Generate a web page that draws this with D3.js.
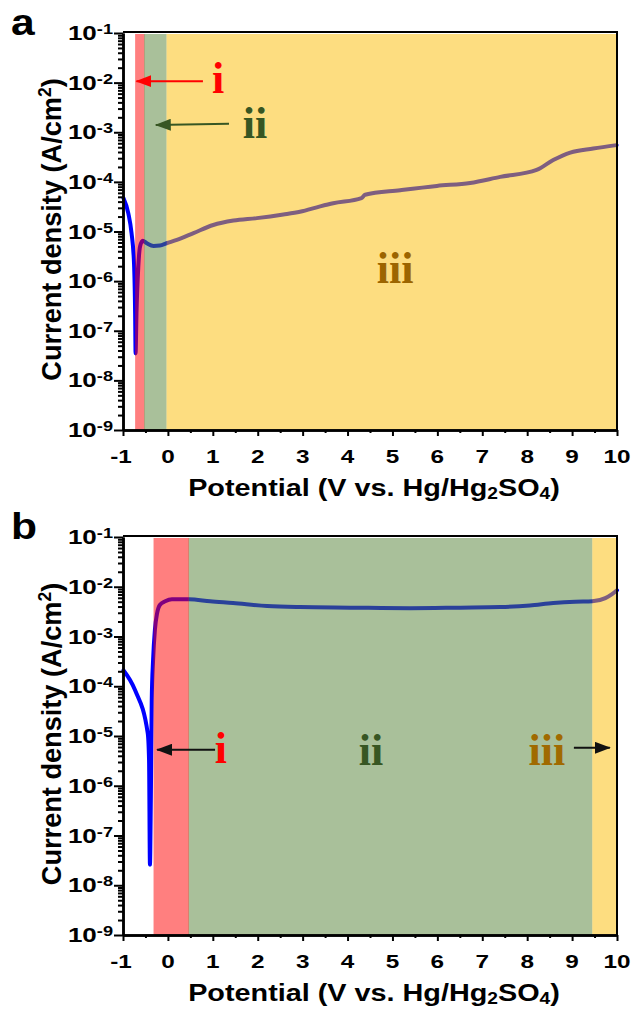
<!DOCTYPE html>
<html>
<head>
<meta charset="utf-8">
<script src="https://cdn.jsdelivr.net/npm/d3@7"></script>
<style>
  body { margin: 0; background: #fff; }
  svg { display: block; }
  text { font-family: "Liberation Sans", Arial, sans-serif; font-weight: bold; fill: #000; }
  .roman { font-family: "Liberation Serif", "Times New Roman", serif; font-weight: bold; }
</style>
</head>
<body>
<svg id="chart" width="633" height="1009"></svg>
<script>
// ---- Panel a: polarization curve (potential in V, current density in A/cm2)
const potentialA = [-0.99, -0.88, -0.81, -0.755, -0.73, -0.72, -0.70, -0.66, -0.62, -0.56,
  -0.47, -0.32, -0.18, -0.03, 0.20, 0.57, 1.01, 1.46, 1.98, 2.57, 2.94, 3.39, 3.68, 4.31,
  4.39, 5.17, 5.99, 6.73, 7.40, 8.21, 8.58, 8.96, 9.47, 9.99];
const currentA = [4.7e-5, 2.3e-5, 9.3e-6, 2.3e-6, 2.2e-7, 3.5e-8, 2.2e-7, 1.9e-6, 5.0e-6, 6.5e-6,
  5.8e-6, 5.1e-6, 5.2e-6, 5.8e-6, 6.8e-6, 9.3e-6, 1.35e-5, 1.66e-5, 1.86e-5, 2.2e-5, 2.5e-5, 3.2e-5, 3.7e-5, 4.7e-5,
  5.5e-5, 6.8e-5, 8.3e-5, 9.5e-5, 1.26e-4, 1.74e-4, 2.75e-4, 3.9e-4, 4.7e-4, 5.5e-4];

// ---- Panel b
const potentialB = [-0.99, -0.73, -0.45, -0.42, -0.40, -0.38, -0.36, -0.33, -0.29, -0.24,
  -0.18, -0.06, 0.09, 0.47, 0.94, 1.45, 2.21, 2.94, 4.06, 5.39, 6.51, 7.40, 8.06, 8.58,
  9.07, 9.45, 9.74, 9.89, 10.0];
const currentB = [2.1e-4, 8.3e-5, 1.15e-5, 3.3e-6, 2.6e-8, 5.1e-7, 5.2e-5, 3.4e-4, 1.35e-3, 2.95e-3,
  4.3e-3, 5.1e-3, 5.6e-3, 5.6e-3, 5.1e-3, 4.7e-3, 4.1e-3, 3.9e-3, 3.8e-3, 3.7e-3, 3.8e-3, 3.9e-3, 4.2e-3, 4.7e-3,
  5.0e-3, 5.1e-3, 5.9e-3, 7.1e-3, 8.5e-3];

// Region bounds (potential) for stages i, ii, iii
const regionNames = ["i", "ii", "iii"];
const regionStartA = [-0.73, -0.53, -0.03];
const regionEndA = [-0.52, -0.03, 10];
const regionStartB = [-0.32, 0.46, 9.45];
const regionEndB = [0.47, 9.45, 10];

// Axis ticks
const xTicks = [-1, 0, 1, 2, 3, 4, 5, 6, 7, 8, 9, 10];
const xMinorTicks = [-0.5, 0.5, 1.5, 2.5, 3.5, 4.5, 5.5, 6.5, 7.5, 8.5, 9.5];
const yExponents = [-1, -2, -3, -4, -5, -6, -7, -8, -9];

// Annotation placements [potential, current] for the stage labels
const labelPosA = [[1.12, 6.2e-3], [1.94, 7.6e-4], [5.06, 9.1e-7]];
const arrowA = [[[0.78, 1.07e-2], [-0.70, 1.07e-2]], [[1.36, 1.48e-3], [-0.27, 1.40e-3]]];
const labelPosB = [[1.18, 2.9e-6], [4.52, 2.65e-6], [8.44, 2.65e-6]];
const arrowB = [[[1.05, 5.3e-6], [-0.24, 5.3e-6]], [[9.04, 5.8e-6], [9.84, 5.8e-6]]];

const svg = d3.select("#chart");
const x = d3.scaleLinear().domain([-1, 10]).range([123, 617]);

const regionFill = ["rgb(255,0,0)", "rgb(83,129,53)", "rgb(251,187,1)"];
const labelColor = ["#ff0000", "#375623", "#9c6500"];

// arrowhead markers
const defs = svg.append("defs");
function marker(id, color) {
  defs.append("marker").attr("id", id)
    .attr("viewBox", "0 0 16 12").attr("refX", 15).attr("refY", 6)
    .attr("markerWidth", 16).attr("markerHeight", 12).attr("markerUnits", "userSpaceOnUse")
    .attr("orient", "auto")
    .append("path").attr("d", "M0,0L16,6L0,12Z").attr("fill", color);
}
marker("head-red", "#ff0000");
marker("head-green", "#375623");
marker("head-black", "#111");

// text drawn with a horizontal widening in its own frame
function wideText(g, tx, ty, sx, rot) {
  return g.append("text")
    .attr("transform", `translate(${tx},${ty})` + (rot ? ` rotate(${rot})` : "") + ` scale(${sx},1)`);
}

function panel(opts) {
  const { top, bottom, potential, current, rStart, rEnd, letter, labelPos, arrows, arrowMarkers, arrowColors, labelColors } = opts;
  const y = d3.scaleLog().domain([1e-9, 1e-1]).range([bottom, top]);
  const g = svg.append("g");

  // data curve
  const line = d3.line().x((d, i) => x(potential[i])).y((d, i) => y(current[i])).curve(d3.curveMonotoneX);
  g.append("path").datum(potential).attr("d", line)
    .attr("fill", "none").attr("stroke", "#0000ff").attr("stroke-width", 4)
    .attr("stroke-linejoin", "round").attr("stroke-linecap", "round");

  // translucent stage bands over the curve
  g.append("g").selectAll("rect").data(regionNames).join("rect")
    .attr("x", (d, i) => x(rStart[i]))
    .attr("width", (d, i) => x(rEnd[i]) - x(rStart[i]))
    .attr("y", y(1e-1) + 1)
    .attr("height", y(1e-9) - y(1e-1) - 1)
    .attr("fill", (d, i) => regionFill[i])
    .attr("fill-opacity", 0.5);

  // frame (top and right)
  g.append("path")
    .attr("d", `M${x(-1)},${y(1e-1) - 1}H${x(10)}V${y(1e-9)}`)
    .attr("fill", "none").attr("stroke", "#000").attr("stroke-width", 2);

  // y axis: decades and minor ticks
  const minorY = [];
  yExponents.slice(0, -1).forEach(e => { for (let m = 2; m <= 9; m++) minorY.push(m * Math.pow(10, e - 1)); });
  const yMajor = yExponents.map(e => Math.pow(10, e));
  const ya = g.append("g").attr("transform", `translate(${x(-1)},0)`);
  ya.call(d3.axisLeft(y).tickValues(minorY).tickSize(5).tickSizeOuter(0).tickFormat(""));
  ya.append("g").call(d3.axisLeft(y).tickValues(yMajor).tickSize(9).tickSizeOuter(0).tickFormat(""));
  ya.selectAll("path.domain").attr("stroke-width", 2.5).attr("stroke", "#000");
  ya.selectAll(".tick line").attr("stroke-width", 2).attr("stroke", "#000");

  yExponents.forEach(e => {
    const t = wideText(g, 113, y(Math.pow(10, e)) + 7, 1.3).attr("text-anchor", "end").style("font-size", "20px");
    t.append("tspan").text("10");
    t.append("tspan").attr("dy", -6).style("font-size", "14px").text(String(e));
  });

  // x axis
  const xa = g.append("g").attr("transform", `translate(0,${y(1e-9)})`);
  xa.call(d3.axisBottom(x).tickValues(xMinorTicks).tickSize(3).tickSizeOuter(0).tickFormat(""));
  xa.append("g").call(d3.axisBottom(x).tickValues(xTicks).tickSize(6).tickSizeOuter(0).tickFormat(""));
  xa.selectAll("path.domain").attr("stroke-width", 2.5).attr("stroke", "#000");
  xa.selectAll(".tick line").attr("stroke-width", 2).attr("stroke", "#000");

  xTicks.forEach(v => {
    wideText(g, x(v) - (v < 0 ? 2 : 0), y(1e-9) + 33, 1.28).attr("text-anchor", "middle")
      .style("font-size", "19px").text(String(v));
  });

  // axis titles
  const xt = wideText(g, 374, y(1e-9) + 66, 1.2).attr("text-anchor", "middle").style("font-size", "24px");
  xt.append("tspan").text("Potential (V vs. Hg/Hg");
  xt.append("tspan").attr("dy", 3).style("font-size", "16px").text("2");
  xt.append("tspan").attr("dy", -3).text("SO");
  xt.append("tspan").attr("dy", 3).style("font-size", "16px").text("4");
  xt.append("tspan").attr("dy", -3).text(")");

  const yt = wideText(g, 61, (top + bottom) / 2 - 2, 0.97, -90).attr("text-anchor", "middle").style("font-size", "28px");
  yt.append("tspan").text("Current density (A/cm");
  yt.append("tspan").attr("dy", -10).style("font-size", "18px").text("2");
  yt.append("tspan").attr("dy", 10).text(")");

  // panel letter
  wideText(g, 11, top + 2, 1.15).style("font-size", "37px").text(letter);

  // stage labels and arrows
  arrows.forEach((a, i) => {
    g.append("line")
      .attr("x1", x(a[0][0])).attr("y1", y(a[0][1]))
      .attr("x2", x(a[1][0])).attr("y2", y(a[1][1]))
      .attr("stroke", arrowColors[i]).attr("stroke-width", 2)
      .attr("marker-end", `url(#${arrowMarkers[i]})`);
  });
  regionNames.forEach((n, i) => {
    g.append("text").attr("class", "roman")
      .attr("x", x(labelPos[i][0])).attr("y", y(labelPos[i][1]))
      .attr("text-anchor", "middle")
      .style("font-size", "44px").style("fill", labelColors[i])
      .text(n);
  });
}

panel({
  top: 33, bottom: 430, potential: potentialA, current: currentA,
  rStart: regionStartA, rEnd: regionEndA, letter: "a",
  labelPos: labelPosA, arrows: arrowA,
  arrowMarkers: ["head-red", "head-green"], arrowColors: ["#ff0000", "#375623"],
  labelColors: labelColor
});
panel({
  top: 537, bottom: 935, potential: potentialB, current: currentB,
  rStart: regionStartB, rEnd: regionEndB, letter: "b",
  labelPos: labelPosB, arrows: arrowB,
  arrowMarkers: ["head-black", "head-black"], arrowColors: ["#111", "#111"],
  labelColors: ["#ff0000", "#375623", "#a06a00"]
});
</script>
</body>
</html>
